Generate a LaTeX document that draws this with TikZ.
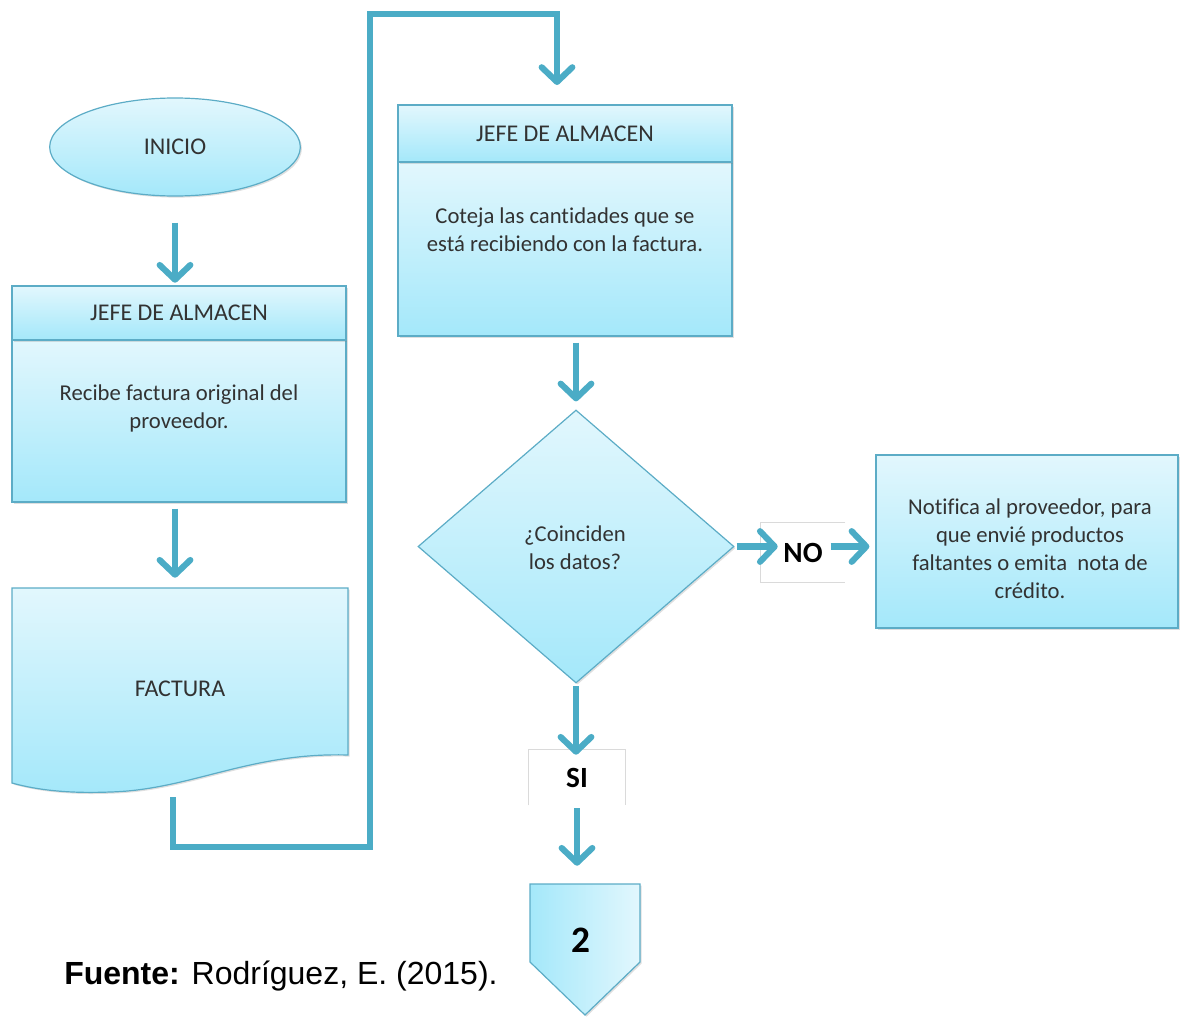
\documentclass[tikz,border=0pt]{standalone}
\usepackage{fontspec}
\setmainfont[Ligatures=NoCommon]{Carlito}
\newfontfamily\arialf{Liberation Sans}
\usetikzlibrary{shapes.geometric,arrows.meta,calc,shadows}
\definecolor{arrc}{RGB}{75,172,198}
\definecolor{bord}{RGB}{92,172,198}
\definecolor{ctop}{RGB}{226,247,253}
\definecolor{cbot}{RGB}{164,232,250}
\definecolor{txt}{RGB}{50,50,50}
\definecolor{lgray}{RGB}{218,218,218}
\begin{document}
\begin{tikzpicture}[x=0.75pt,y=-0.75pt,
  fillbox/.style={draw=bord, line width=0.9pt, top color=ctop, bottom color=cbot},
  shad/.style={drop shadow={opacity=0.25,shadow xshift=1.2pt,shadow yshift=-1.2pt}},
  arr/.style={draw=arrc, line width=4.6pt, -{Straight Barb[length=11pt,width=23pt,round]}},
  loopline/.style={draw=arrc, line width=3.8pt},
  hdrtext/.style={font=\fontsize{18}{21}\selectfont, text=txt},
  btext/.style={font=\fontsize{17}{21}\selectfont, text=txt, align=center},
  lbl/.style={font=\bfseries\fontsize{22}{24}\selectfont, text=black},
  inv/.style={inner sep=0pt}
]
\useasboundingbox (0,0) rectangle (1180,1017);

% INICIO
\node[ellipse, fillbox, shad, inner sep=0pt, minimum width=188pt, minimum height=73.5pt, hdrtext] (inicio) at (175,147) {INICIO};

% Box 1
\node[fillbox, shad, inv, minimum width=250.5pt, minimum height=121.5pt] (body1) at (179,421) {};
\node[fillbox, shad, inv, minimum width=250.5pt, minimum height=40.5pt, hdrtext] (h1) at (179,313) {JEFE DE ALMACEN};
\node[btext] (t1) at (179,408) {Recibe factura original del\\proveedor.};

% FACTURA document
\node[inv, minimum width=252pt, minimum height=151.5pt] (fact) at (180,689) {};
\path[fillbox, shad] (12,588) -- (348,588) -- (348,755)
  .. controls (250,752) and (190,790) .. (110,792)
  .. controls (60,794) and (30,788) .. (12,783) -- cycle;
\node[hdrtext] (facttxt) at (fact.center) {FACTURA};

% Box 2
\node[fillbox, shad, inv, minimum width=250.5pt, minimum height=130.5pt] (body2) at (565,249) {};
\node[fillbox, shad, inv, minimum width=250.5pt, minimum height=42.75pt, hdrtext] (h2) at (565,133.5) {JEFE DE ALMACEN};
\node[btext] (t2) at (565,229.5) {Coteja las cantidades que se\\está recibiendo con la factura.};

% Decision
\node[diamond, fillbox, shad, inv, minimum width=237pt, minimum height=204.75pt] (dia) at (576,546.5) {};
\node[btext] (diatxt) at (575,548) {¿Coinciden\\los datos?};

% NO label
\node[inv, minimum width=63pt, minimum height=44.25pt, lbl] (no) at (803,552.5) {NO};
\draw[lgray, line width=0.6pt] (no.north east) -- (no.north west) -- (no.south west) -- (no.south east);

% Notification box
\node[fillbox, shad, inv, minimum width=226.5pt, minimum height=129.75pt] (notif) at (1027,541.5) {};
\node[btext] (t3) at (1030,549) {Notifica al proveedor, para\\que envié productos\\faltantes o emita~ nota de\\crédito.};

% SI label
\node[inv, minimum width=72pt, minimum height=41.25pt, lbl] (si) at (577,777.5) {SI};
\draw[lgray, line width=0.6pt] (si.south west) -- (si.north west) -- (si.north east) -- (si.south east);

% Off-page connector
\node[inv, minimum width=82.5pt, minimum height=98.25pt] (off) at (585,949.5) {};
\path[draw=bord, line width=0.9pt, left color=cbot, right color=ctop, shad]
  (530,884) -- (640,884) -- (640,962) -- (585,1015) -- (530,962) -- cycle;
\node[font=\bfseries\fontsize{28}{30}\selectfont] (two) at (581,940) {2};

% Source
\node[anchor=west, inv, font=\arialf\fontsize{24}{28}\selectfont] (src) at (64,976) {\textbf{Fuente:} Rodríguez, E. (2015).};

% Connectors
\draw[arr, shorten <=19.5pt, shorten >=2pt] (inicio.south) -- (inicio.south |- h1.north);
\draw[arr, shorten <=4.5pt, shorten >=7.5pt] ($(body1.south)+(-4,0)$) -- ($(fact.north)+(-5,0)$);
\draw[arr, shorten <=4.5pt, shorten >=6pt] (dia.north |- body2.south) -- (dia.north);
\draw[arr, shorten <=1.5pt, shorten >=-12.75pt] (dia.east) -- (dia.east -| no.west);
\draw[arr, shorten <=-11pt, shorten >=4.5pt] (dia.east -| no.east) -- (dia.east -| notif.west);
\draw[arr, shorten <=2pt, shorten >=-3.75pt] (dia.south) -- (dia.south |- si.north);
\draw[arr, shorten <=2.25pt, shorten >=13.5pt] (si.south) -- (si.south |- off.north);

\coordinate (fo) at (173,797);
\coordinate (w1) at (370,847);
\coordinate (w2) at (370,14);
\coordinate (in2) at (557,85);
\draw[loopline] (fo) |- (w1) -- (w2) -| ($(in2)+(0,-14)$);
\draw[arr] ($(in2)+(0,-16)$) -- (in2);
\end{tikzpicture}
\end{document}
